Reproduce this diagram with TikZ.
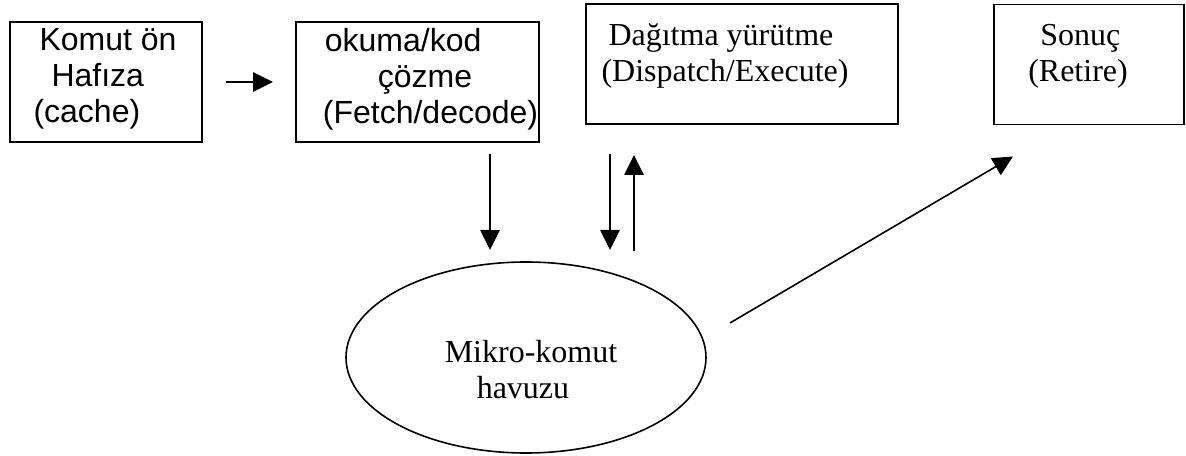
\documentclass[tikz,border=0pt]{standalone}
\usepackage{fontspec}
\setmainfont{Liberation Serif}
\newfontfamily\arialfont{Liberation Sans}
\usetikzlibrary{arrows.meta,shapes.geometric}

\begin{document}
\begin{tikzpicture}[x=0.75pt,y=-0.75pt,line width=1.2pt,
	>={Triangle[length=15pt,width=14.5pt]},
	stage/.style={draw,rectangle,inner sep=0pt,outer sep=0pt,minimum height=90pt},
	pool node/.style={draw,ellipse,inner sep=0pt,outer sep=0pt},
	sans text/.style={align=left,inner sep=0pt,font=\arialfont\fontsize{24}{27}\selectfont},
	serif text/.style={align=left,inner sep=0pt,font=\fontsize{24}{27}\selectfont}]
	\useasboundingbox (0,0) rectangle (1186,456);
	% boxes
	\node[stage,minimum width=144pt] (cache) at (106,82) {};
	\node[stage,minimum width=182.25pt] (fetch) at (417.5,82) {};
	\node[stage,minimum width=234pt] (exec) at (742,64) {};
	\node[stage,minimum width=142.5pt] (retire) at (1089,64.5) {};
	\node[pool node,minimum width=270pt,minimum height=143.25pt] (pool) at (526,357.5) {};
	% texts
	\node[sans text] (cachetxt) at (105,79) {\hspace{4.5pt}Komut ön\\\hspace{13.5pt}Hafıza\\(cache)};
	\node[sans text] (fetchtxt) at (430.5,79) {\hspace{1.5pt}okuma/kod\\\hspace{41.25pt}çözme\\(Fetch/decode)};
	\node[serif text] (exectxt) at (725,56) {\hspace{5.25pt}Dağıtma yürütme\\(Dispatch/Execute)};
	\node[serif text] (retiretxt) at (1078,56) {\hspace{9pt}Sonuç\\(Retire)};
	\node[serif text] (pooltxt) at (531,370) {Mikro-komut\\\hspace{24pt}havuzu};
	% arrows
	\draw[->] ([xshift=18pt]cache.east) -- ([xshift=-17.25pt]fetch.west);
	\draw[->] ([xshift=54.4pt,yshift=-9pt]fetch.south) -- ([xshift=-27pt,yshift=9pt]pool.north);
	\draw[->] ([xshift=-99pt,yshift=-22.5pt]exec.south) -- ([xshift=63pt,yshift=9pt]pool.north);
	\draw[->] ([xshift=81pt,yshift=8.25pt]pool.north) -- ([xshift=-81pt,yshift=-23.25pt]exec.south);
	\draw[->] ([xshift=18pt,yshift=25.9pt]pool.east) -- ([xshift=-57pt,yshift=-24pt]retire.south);
\end{tikzpicture}
\end{document}
